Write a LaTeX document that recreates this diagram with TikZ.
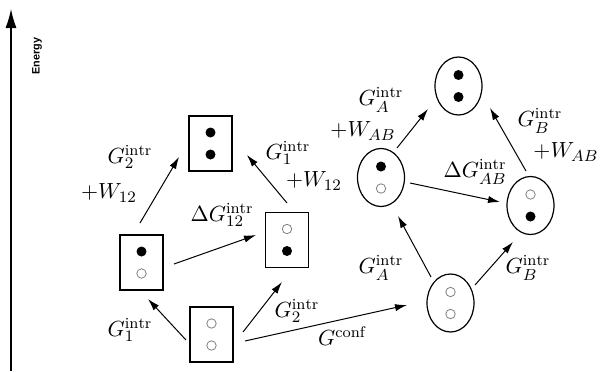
\documentclass[tikz,border=0pt]{standalone}
\usepackage{fontspec}
\newfontfamily\lsans{Liberation Sans}
\usetikzlibrary{arrows.meta,shapes.geometric}
\begin{document}
\begin{tikzpicture}[x=0.5pt,y=-0.5pt,
  box/.style={draw,line width=0.6pt,minimum width=21.5pt,minimum height=27.5pt,inner sep=0pt},
  ell/.style={draw,ellipse,line width=0.6pt,minimum width=23.5pt,minimum height=29pt,inner sep=0pt},
  full/.style={circle,fill=black,minimum size=5pt,inner sep=0pt},
  empty/.style={circle,draw=gray,line width=0.4pt,minimum size=4.7pt,inner sep=0pt},
  arr/.style={-{Latex[length=6pt,width=3.6pt]},line width=0.5pt},
  lab/.style={font=\fontsize{11}{13}\selectfont,inner sep=0pt}]
\useasboundingbox (0,0) rectangle (600,371);
% energy axis
\coordinate (e0) at (11,371);
\coordinate (e1) at (11,9);
\draw[line width=0.6pt,-{Latex[length=9.5pt,width=5.5pt]}] (e0) -- (e1);
\node[rotate=90,font=\lsans\bfseries\fontsize{5.4}{6}\selectfont,inner sep=0pt] (energy) at (37,56) {Energy};
% boxes
\node[box] (top) at (210.5,143.5) {};
\node[box] (lbox) at (141.5,262.5) {};
\node[box] (rbox) at (287,240) {};
\node[box] (bot) at (211.5,334.5) {};
\node[full] (t1) at (210.5,132.5) {};
\node[full] (t2) at (210.5,154.5) {};
\node[full] (l1) at (141.5,251.5) {};
\node[empty] (l2) at (141.5,273.5) {};
\node[empty] (r1) at (287,229) {};
\node[full] (r2) at (287,251) {};
\node[empty] (b1) at (211.5,323.5) {};
\node[empty] (b2) at (211.5,345.5) {};
% ellipses
\node[ell] (etop) at (458.5,86) {};
\node[ell] (eleft) at (381,177.5) {};
\node[ell] (eright) at (530.5,205.5) {};
\node[ell] (ebot) at (450.5,303) {};
\node[full] (et1) at (458.5,75) {};
\node[full] (et2) at (458.5,97) {};
\node[full] (el1) at (381,166.5) {};
\node[empty] (el2) at (381,188.5) {};
\node[empty] (er1) at (530.5,194.5) {};
\node[full] (er2) at (530.5,216.5) {};
\node[empty] (eb1) at (450.5,292) {};
\node[empty] (eb2) at (450.5,314) {};
% arrows
\draw[arr] ([shift={(-25.5,5.5)}]bot.center) -- ([shift={(6.5,36.5)}]lbox.center);
\draw[arr] ([shift={(31.5,-2.5)}]bot.center) -- ([shift={(-5,42)}]rbox.center);
\draw[arr] ([shift={(33.5,6.5)}]bot.center) -- ([shift={(-43.5,2)}]ebot.center);
\draw[arr] ([shift={(-1.5,-39.5)}]lbox.center) -- ([shift={(-31.5,13.5)}]top.center);
\draw[arr] ([shift={(32.5,1.5)}]lbox.center) -- ([shift={(-31,-5)}]rbox.center);
\draw[arr] ([shift={(0,-37)}]rbox.center) -- ([shift={(36.5,11.5)}]top.center);
\draw[arr] ([shift={(-19.5,-26)}]ebot.center) -- ([shift={(17,38.5)}]eleft.center);
\draw[arr] ([shift={(24.5,-18)}]ebot.center) -- ([shift={(-17.5,36.5)}]eright.center);
\draw[arr] ([shift={(16,-29.5)}]eleft.center) -- ([shift={(-30.5,23)}]etop.center);
\draw[arr] ([shift={(29,5.5)}]eleft.center) -- ([shift={(-30.5,-3.5)}]eright.center);
\draw[arr] ([shift={(-4.5,-34.5)}]eright.center) -- ([shift={(31.5,22)}]etop.center);
% labels
\node[lab] (g1a) at (130,330) {$G_1^{\rm intr}$};
\node[lab] (g2a) at (297,311) {$G_2^{\rm intr}$};
\node[lab] (gc) at (342,336) {$G^{\rm conf}$};
\node[lab] (dg12) at (222,215) {$\Delta G_{12}^{\rm intr}$};
\node[lab] (g2b) at (130,157) {$G_2^{\rm intr}$};
\node[lab] (w1) at (109,193) {$+W_{12}$};
\node[lab] (g1b) at (288,153) {$G_1^{\rm intr}$};
\node[lab] (w2) at (314,181) {$+W_{12}$};
\node[lab] (gaa) at (381,100) {$G_A^{\rm intr}$};
\node[lab] (w3) at (363,131) {$+W_{AB}$};
\node[lab] (dgab) at (475,172) {$\Delta G_{AB}^{\rm intr}$};
\node[lab] (gba) at (540,121) {$G_B^{\rm intr}$};
\node[lab] (w4) at (566,152) {$+W_{AB}$};
\node[lab] (gab) at (381,268) {$G_A^{\rm intr}$};
\node[lab] (gbb) at (528,268) {$G_B^{\rm intr}$};
\end{tikzpicture}
\end{document}
